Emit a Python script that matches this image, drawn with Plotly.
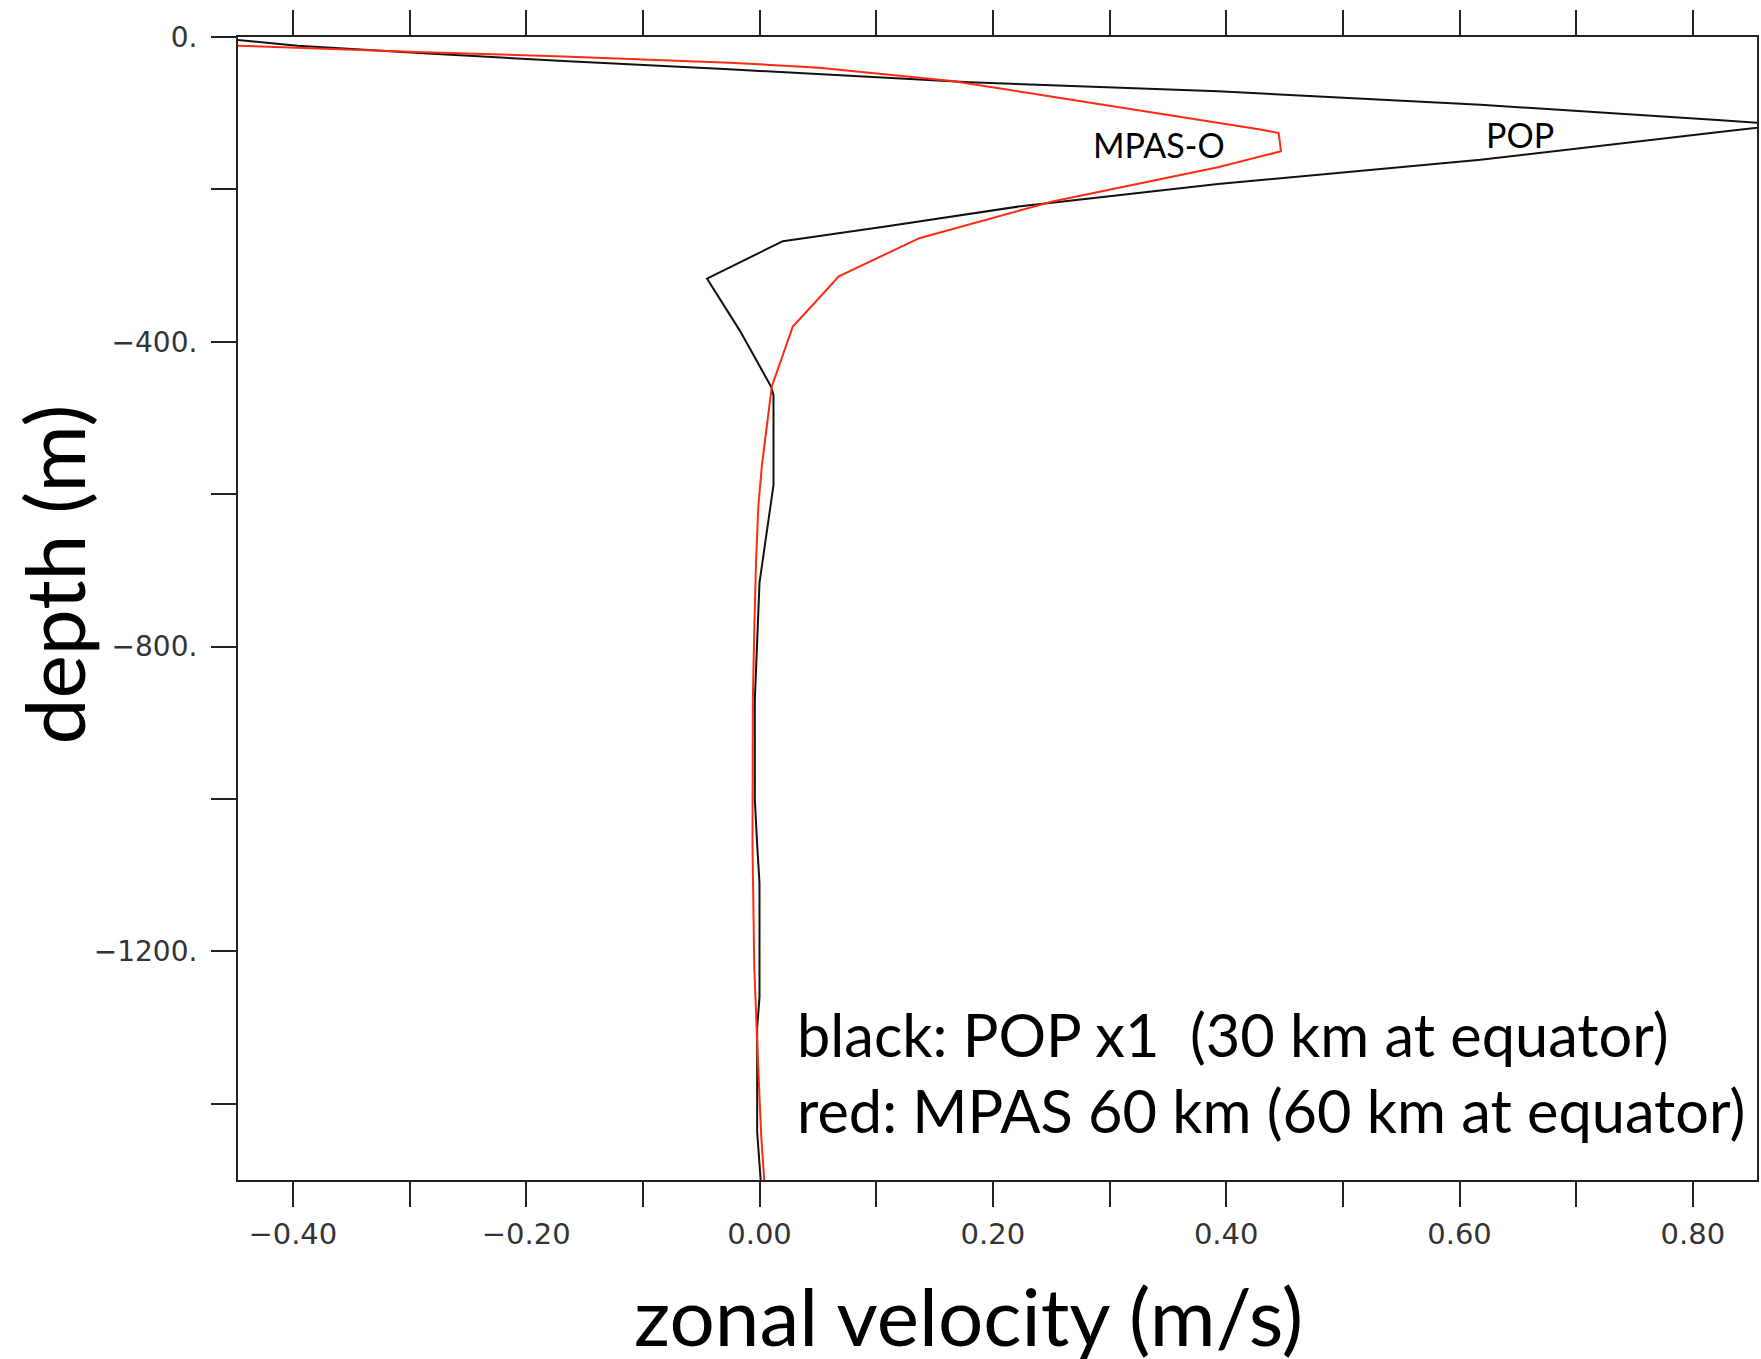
import plotly.graph_objects as go

# ---- data ----
pop_u = [-0.447, -0.396, -0.288, -0.168, -0.026, 0.18, 0.393, 0.618, 0.821, 0.878,
         0.821, 0.618, 0.393, 0.222, 0.108, 0.020, -0.045, -0.017, 0.010, 0.012,
         0.012, 0.000, -0.004, -0.004, -0.002, 0.000, 0.000, -0.002, -0.002, 0.001]
pop_z = [-4, -11.4, -21.4, -31.5, -42.4, -59.5, -71.2, -89, -109, -115,
         -125, -161, -193, -222.5, -248.8, -268, -317, -385, -459, -470,
         -588, -716, -870, -1000, -1060, -1110, -1260, -1300, -1437, -1500]

mpas_u = [-0.447, -0.288, -0.168, -0.026, 0.051, 0.165, 0.251, 0.336, 0.393, 0.428,
          0.445, 0.447, 0.393, 0.251, 0.137, 0.068, 0.046, 0.0285, 0.0105, 0.002,
          -0.001, -0.003, -0.0045, -0.0057, -0.006, -0.0045, -0.0017, 0.0014, 0.004]
mpas_z = [-11.4, -20, -25.5, -33.7, -40.2, -57.7, -78.3, -98.8, -112, -121,
          -126, -150, -171, -216, -264, -314, -351, -380, -459, -563,
          -616, -690, -780, -870, -1060, -1220, -1330, -1440, -1500]

x_tickvals = [-0.4, -0.3, -0.2, -0.1, 0.0, 0.1, 0.2, 0.3, 0.4, 0.5, 0.6, 0.7, 0.8]
x_ticktext = ["\u22120.40", "", "\u22120.20", "", "0.00", "", "0.20", "", "0.40", "", "0.60", "", "0.80"]
y_tickvals = [0, -200, -400, -600, -800, -1000, -1200, -1400]
y_ticktext = ["0.", "", "\u2212400.", "", "\u2212800.", "", "\u22121200.", ""]

x_range = [-0.447, 0.855]
y_range = [-1500, 0]

curve_labels = [("MPAS-O", 0.342, -141.6), ("POP", 0.652, -127.5)]
legend_lines = ["black: POP x1\u00a0\u00a0(30 km at equator)",
                "red: MPAS 60 km (60 km at equator)"]
legend_x = 0.030
legend_y = [-1309, -1408]

# ---- figure ----
W, H = 1761, 1359
ML, MR, MT, MB = 238, 2, 37, 179

fig = go.Figure()
fig.add_trace(go.Scatter(x=pop_u, y=pop_z, mode="lines",
                         line=dict(color="#111111", width=2), hoverinfo="skip"))
fig.add_trace(go.Scatter(x=mpas_u, y=mpas_z, mode="lines",
                         line=dict(color="#ff2a12", width=2), hoverinfo="skip"))

axis_common = dict(showgrid=False, zeroline=False, showline=True, linecolor="#222222",
                   linewidth=2, ticks="outside", ticklen=25, tickwidth=2,
                   tickcolor="#222222")

fig.update_xaxes(range=x_range, tickmode="array", tickvals=x_tickvals, ticktext=x_ticktext,
                 mirror="ticks", ticklabelstandoff=2,
                 tickfont=dict(family="DejaVu Sans", size=29, color="#333333"), **axis_common)
fig.update_yaxes(range=y_range, tickmode="array", tickvals=y_tickvals, ticktext=y_ticktext,
                 mirror=True, ticklabelstandoff=8,
                 tickfont=dict(family="DejaVu Sans", size=28, color="#333333"), **axis_common)

label_font = dict(family="Lato", size=34, color="black")
for txt, xv, yv in curve_labels:
    fig.add_annotation(x=xv, y=yv, xref="x", yref="y", text=txt, showarrow=False,
                       font=label_font, xanchor="center", yanchor="middle")

for txt, yv in zip(legend_lines, legend_y):
    fig.add_annotation(x=legend_x, y=yv, xref="x", yref="y", text=txt, showarrow=False,
                       font=dict(family="Lato", size=59.5, color="black"),
                       xanchor="left", yanchor="middle")

fig.add_annotation(x=0.481, y=-0.118, xref="paper", yref="paper", text="zonal velocity (m/s)",
                   showarrow=False, font=dict(family="Lato", size=80, color="black"),
                   xanchor="center", yanchor="middle")
fig.add_annotation(x=-0.1216, y=0.530, xref="paper", yref="paper", text="depth (m)",
                   showarrow=False, font=dict(family="Lato", size=82, color="black"),
                   textangle=-90, xanchor="center", yanchor="middle")

fig.update_layout(width=W, height=H, margin=dict(l=ML, r=MR, t=MT, b=MB),
                  paper_bgcolor="white", plot_bgcolor="white", showlegend=False)

fig.write_html("out.html", config={"displayModeBar": False},
               post_script="document.body.style.margin='0px';document.body.style.overflow='hidden';")
